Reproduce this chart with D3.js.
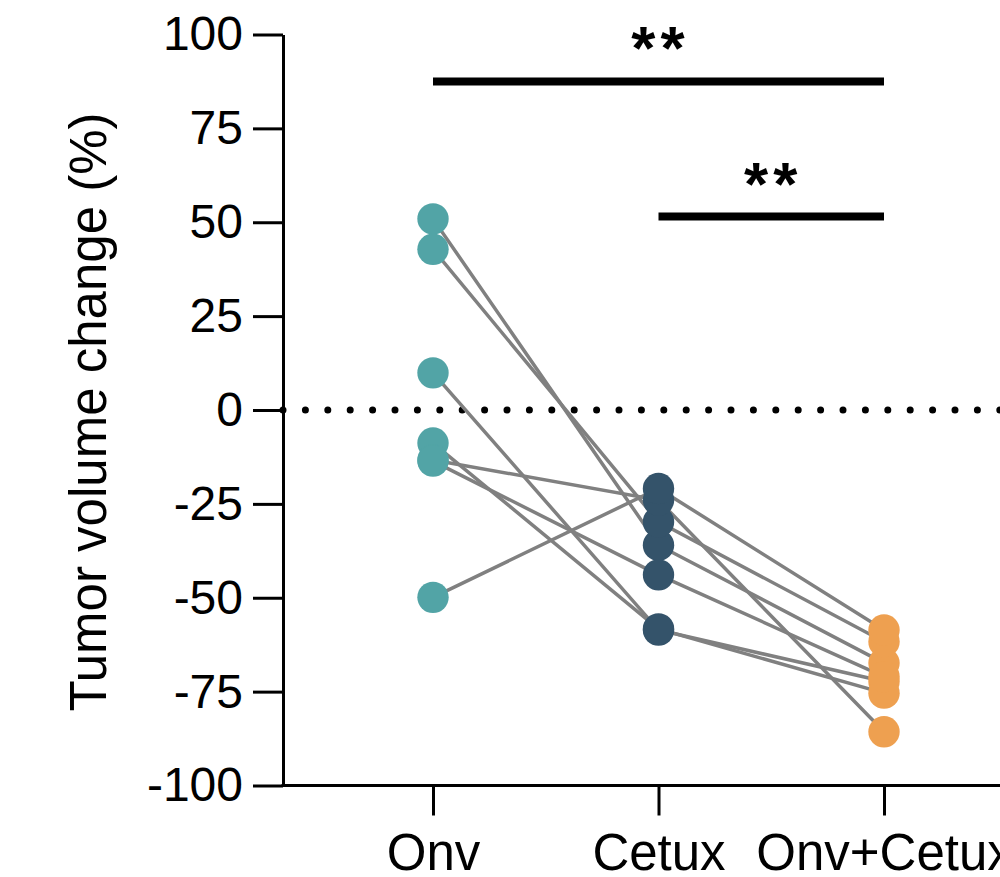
<!DOCTYPE html>
<html>
<head>
<meta charset="utf-8">
<script src="https://cdn.jsdelivr.net/npm/d3@7/dist/d3.min.js"></script>
<style>
  body { margin: 0; background: #fff; }
  svg { display: block; font-family: "Liberation Sans", Arial, sans-serif; }
</style>
</head>
<body>
<div id="chart"></div>
<script>
// groups along the x axis
const groups = ["Onv", "Cetux", "Onv+Cetux"];

// paired values per subject (tumor volume change, %)
const onvValues      = [50.9, 42.8, 9.9, -8.8, -13.3, -13.6, -49.9];
const cetuxValues    = [-36.0, -29.8, -58.6, -58.3, -24.0, -43.9, -20.9];
const onvCetuxValues = [-67.4, -61.7, -72.3, -75.4, -85.7, -71.0, -58.6];

const groupColors = ["#52a4a6", "#34536a", "#eea050"];

// y ticks
const yTicks = [-100, -75, -50, -25, 0, 25, 50, 75, 100];

// significance brackets
const sigFrom  = ["Onv", "Cetux"];
const sigTo    = ["Onv+Cetux", "Onv+Cetux"];
const sigLevel = [87.5, 51.5];
const sigLabel = ["**", "**"];

const width = 1000, height = 877;
const axisX = 283;

function renderChart(container) {
  const svg = d3.select(container).append("svg")
    .attr("width", width)
    .attr("height", height);

  const x = d3.scalePoint().domain(groups).range([433, 884]);
  const y = d3.scaleLinear().domain([-100, 100]).range([785.5, 34.5]);

  // subjects as rows of three values
  const subjects = onvValues.map((v, i) => [v, cetuxValues[i], onvCetuxValues[i]]);

  // y axis (plain hyphen for negatives)
  const yAxis = svg.append("g")
    .attr("transform", `translate(${axisX},0)`)
    .call(d3.axisLeft(y).tickValues(yTicks).tickFormat(d => String(d))
      .tickSize(30).tickSizeOuter(0).tickPadding(10));
  yAxis.select(".domain").attr("stroke-width", 3);
  yAxis.selectAll(".tick line").attr("stroke-width", 3);
  yAxis.selectAll(".tick text").attr("font-size", 48).attr("fill", "#000");

  // x axis, baseline runs to the right edge
  const xAxis = svg.append("g")
    .attr("transform", `translate(0,${y(-100)})`)
    .call(d3.axisBottom(x).tickSize(30).tickSizeOuter(0).tickPadding(18));
  xAxis.select(".domain").remove();
  xAxis.selectAll(".tick line").attr("stroke-width", 3);
  xAxis.selectAll(".tick text").attr("font-size", 51).attr("fill", "#000");
  svg.append("line")
    .attr("x1", axisX - 1.5).attr("x2", width)
    .attr("y1", y(-100)).attr("y2", y(-100))
    .attr("stroke", "#000").attr("stroke-width", 3);

  // y title
  svg.append("text")
    .attr("transform", `translate(106,${(y(100) + y(-100)) / 2 + 2}) rotate(-90)`)
    .attr("text-anchor", "middle")
    .attr("font-size", 51)
    .text("Tumor volume change (%)");

  // dotted zero line
  svg.append("line")
    .attr("x1", axisX).attr("x2", width)
    .attr("y1", y(0)).attr("y2", y(0))
    .attr("stroke", "#000")
    .attr("stroke-width", 7)
    .attr("stroke-linecap", "round")
    .attr("stroke-dasharray", "0 22.4");

  // paired lines
  const line = d3.line()
    .x((d, i) => x(groups[i]))
    .y(d => y(d));
  svg.append("g").selectAll("path")
    .data(subjects)
    .join("path")
    .attr("d", line)
    .attr("fill", "none")
    .attr("stroke", "#808080")
    .attr("stroke-width", 3.5);

  // points
  groups.forEach((g, gi) => {
    svg.append("g").selectAll("circle")
      .data(subjects.map(s => s[gi]))
      .join("circle")
      .attr("cx", x(g))
      .attr("cy", d => y(d))
      .attr("r", 15.7)
      .attr("fill", groupColors[gi]);
  });

  // significance bars
  sigLevel.forEach((lvl, i) => {
    const x1 = x(sigFrom[i]), x2 = x(sigTo[i]);
    svg.append("line")
      .attr("x1", x1).attr("x2", x2)
      .attr("y1", y(lvl)).attr("y2", y(lvl))
      .attr("stroke", "#000")
      .attr("stroke-width", 8);
    svg.append("text")
      .attr("x", (x1 + x2) / 2 + 2)
      .attr("y", y(lvl) - 12)
      .attr("text-anchor", "middle")
      .attr("font-size", 62)
      .attr("font-weight", "bold")
      .attr("letter-spacing", 5)
      .text(sigLabel[i]);
  });
}

renderChart(document.getElementById("chart"));
</script>
</body>
</html>
